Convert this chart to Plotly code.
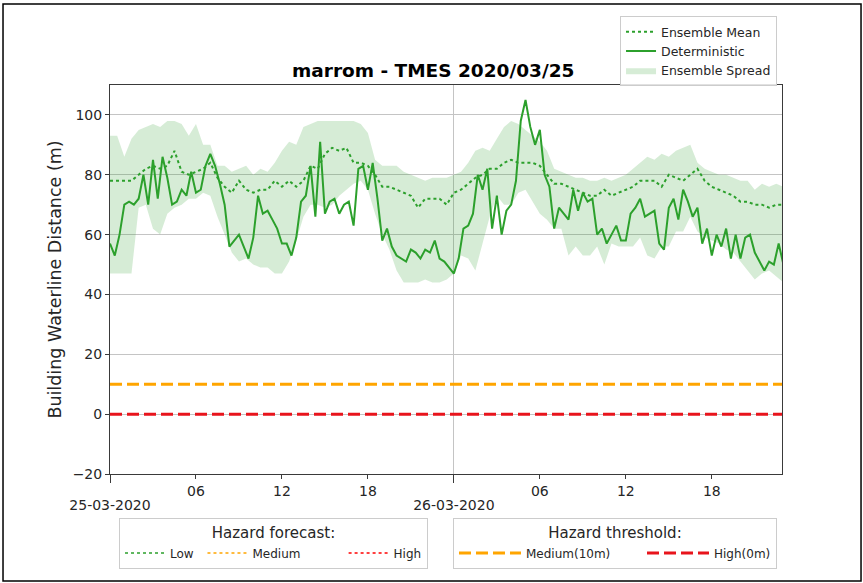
import pandas as pd
import plotly.graph_objects as go

# ---------------------------------------------------------------------------
# Building waterline distance forecast, station "marrom", run TMES 2020/03/25
# ---------------------------------------------------------------------------

# Deterministic run, 20-minute steps from 25-03-2020 00:00
deterministic = [
    57, 53, 60,   70, 71, 70,   72, 80, 70,   85, 72, 86,
    79, 70, 71,   75, 73, 81,   74, 75, 83,   87, 83, 77,
    70, 56, 58,   60, 56, 52,   59, 73, 67,   68, 65, 62,
    57, 57, 53,   59, 71, 73,   83, 66, 91,   67, 71, 72,
    67, 70, 71,   63, 82, 83,   75, 84, 72,   58, 62, 56,
    53, 52, 51,   55, 54, 52,   55, 54, 58,   52, 51, 49,
    47, 52, 62,   63, 67, 80,   75, 82, 62,   73, 60, 68,
    70, 78, 98,  105, 96, 90,   95, 80, 76,   62, 69, 67,
    65, 75, 68,   74, 71, 72,   60, 62, 57,   60, 63, 58,
    58, 67, 69,   72, 66, 67,   68, 57, 55,   69, 72, 65,
    75, 71, 66,   69, 57, 62,   53, 60, 56,   62, 52, 60,
    52, 59, 60,   54, 51, 48,   51, 50, 57,   50,
]

# Ensemble statistics, 30-minute steps from 25-03-2020 00:00
ensemble_mean = [
    78, 78,  78, 78,  80, 82,  83, 82,  83, 88,  81, 80,  81, 82,  84, 79,
    76, 74,  78, 75,  74, 75,  75, 78,  76, 78,  76, 78,  83, 82,  87, 89,
    88, 89,  84, 84,  83, 80,  76, 76,  75, 74,  73, 69,  72, 72,  72, 70,
    74, 75,  77, 79,  80, 82,  82, 84,  85, 84,  84, 84,  83, 80,  77, 77,
    76, 75,  74, 73,  73, 75,  73, 74,  75, 76,  78, 78,  78, 76,  80, 79,
    78, 80,  82, 78,  76, 75,  74, 73,  71, 71,  70, 70,  69, 70,  70,
]
spread_max = [
    93, 93,  86, 92,  95, 96,  97, 96,  98, 98,  97, 93,  97, 90,  90, 83,
    83, 81,  82, 83,  80, 82,  81, 84,  88, 91,  90, 96,  97, 98,  98, 98,
    98, 98,  98, 97,  94, 85,  83, 83,  83, 81,  80, 79,  78, 79,  79, 79,
    80, 81,  84, 88,  89, 88,  92, 96,  98, 97,  95, 93,  91, 88,  82, 81,
    80, 79,  79, 78,  78, 79,  78, 79,  80, 82,  84, 86,  85, 87,  86, 88,
    89, 90,  84, 82,  81, 80,  80, 79,  78, 78,  75, 77,  76, 77,  76,
]
spread_min = [
    47, 47,  47, 47,  69, 70,  62, 60,  67, 69,  70, 72,  72, 74,  73, 66,
    60, 54,  51, 52,  50, 49,  49, 47,  47, 51,  58, 66,  70, 70,  69, 70,
    73, 75,  77, 78,  75, 67,  60, 55,  48, 44,  44, 44,  45, 44,  44, 45,
    47, 53,  52, 48,  57, 66,  73, 70,  70, 74,  75, 71,  67, 65,  62, 62,
    53, 56,  53, 53,  56, 50,  57, 56,  56, 56,  59, 53,  52, 56,  56, 61,
    61, 66,  61, 59,  58, 57,  55, 54,  51, 48,  45, 47,  48, 46,  44,
]

# Hazard forecast classes (legend entries) and hazard thresholds
forecast_levels = ["Low", "Medium", "High"]
forecast_colors = ["#2ca02c", "#ffa500", "#ff0000"]
threshold_names = ["Medium(10m)", "High(0m)"]
threshold_values = [10, 0]
threshold_colors = ["#ffa500", "#e8141c"]

# Axis ticks
y_ticks = [-20, 0, 20, 40, 60, 80, 100]
y_tick_labels = ["\u221220", "0", "20", "40", "60", "80", "100"]
hour_ticks = ["2020-03-25 06:00", "2020-03-25 12:00", "2020-03-25 18:00",
              "2020-03-26 06:00", "2020-03-26 12:00", "2020-03-26 18:00"]
hour_labels = ["06", "12", "18", "06", "12", "18"]
day_ticks = ["2020-03-25 00:00", "2020-03-26 00:00"]
day_labels = ["25-03-2020", "26-03-2020"]

FONT = "DejaVu Sans"
GREEN = "#2ca02c"
TEXT = "#262626"
SPINE = "#3a3a3a"
GRID = "#c4c4c4"
NBSP = "\u00a0"

# trailing spacing of each key entry in the bottom legends (column spacing)
forecast_pad = [1, 10, 0]
threshold_pad = [7, 0]

det_time = pd.date_range("2020-03-25 00:00", periods=len(deterministic), freq="20min")
ens_time = pd.date_range("2020-03-25 00:00", periods=len(ensemble_mean), freq="30min")
x_range = ["2020-03-25 00:00", "2020-03-26 22:54"]

fig = go.Figure()

# ensemble spread band
fig.add_trace(go.Scatter(x=ens_time, y=spread_min, mode="lines",
                         line=dict(width=0, color=GREEN), showlegend=False,
                         hoverinfo="skip"))
fig.add_trace(go.Scatter(x=ens_time, y=spread_max, mode="lines",
                         line=dict(width=0, color=GREEN), fill="tonexty",
                         fillcolor="rgba(50,160,50,0.2)",
                         name="Ensemble Spread", legendrank=3))
fig.add_trace(go.Scatter(x=ens_time, y=ensemble_mean, mode="lines",
                         line=dict(color=GREEN, width=2, dash="dot"),
                         name="Ensemble Mean", legendrank=1))
fig.add_trace(go.Scatter(x=det_time, y=deterministic, mode="lines",
                         line=dict(color=GREEN, width=2),
                         name="Deterministic", legendrank=2))

# hazard forecast key
for name, color, pad in zip(forecast_levels, forecast_colors, forecast_pad):
    fig.add_trace(go.Scatter(x=[None], y=[None], mode="lines",
                             line=dict(color=color, width=1.5, dash="dot"),
                             name=name + NBSP * pad, legend="legend2"))

# hazard thresholds across the whole window
for name, value, color, pad in zip(threshold_names, threshold_values,
                                   threshold_colors, threshold_pad):
    fig.add_trace(go.Scatter(x=x_range, y=[value, value], mode="lines",
                             line=dict(color=color, width=3, dash="12px,5px"),
                             name=name + NBSP * pad, legend="legend3", xaxis="x2"))

fig.update_layout(
    width=863, height=583,
    margin=dict(l=110, r=81, t=85, b=109),
    paper_bgcolor="white", plot_bgcolor="white",
    font=dict(family=FONT, size=14, color=TEXT),
    xaxis=dict(type="date", range=x_range, tickvals=hour_ticks, ticktext=hour_labels,
               ticks="outside", ticklen=4, tickcolor=SPINE, showgrid=False,
               showline=True, mirror=True, linecolor=SPINE, linewidth=1,
               zeroline=False, tickfont=dict(size=14, color=TEXT)),
    xaxis2=dict(type="date", range=x_range, overlaying="x", anchor="y", side="bottom",
                tickvals=day_ticks, ticktext=day_labels, ticks="outside", ticklen=8,
                tickcolor=SPINE, showgrid=True, gridcolor=GRID, gridwidth=1,
                showline=False, zeroline=False, ticklabelstandoff=10,
                tickfont=dict(size=14, color=TEXT)),
    yaxis=dict(range=[-20, 110], tickvals=y_ticks, ticktext=y_tick_labels,
               ticks="outside", ticklen=4, tickcolor=SPINE, showgrid=True,
               gridcolor=GRID, gridwidth=1, zeroline=False, showline=True,
               mirror=True, linecolor=SPINE, linewidth=1,
               tickfont=dict(size=14, color=TEXT),
               title=dict(text="Building Waterline Distance (m)",
                          font=dict(size=17.5, color=TEXT), standoff=6)),
    legend=dict(x=0.9926, y=1.177, xanchor="right", yanchor="top",
                traceorder="normal",
                bordercolor="#cccccc", borderwidth=1, bgcolor="rgba(255,255,255,0.85)",
                font=dict(size=12.5, color=TEXT), tracegroupgap=0),
    legend2=dict(x=0.0134, y=-0.113, xanchor="left", yanchor="top", orientation="h",
                 bordercolor="#cccccc", borderwidth=1, bgcolor="white",
                 font=dict(size=12, color=TEXT), itemwidth=40,
                 title=dict(text="Hazard forecast:", side="top center",
                            font=dict(size=15, color=TEXT))),
    legend3=dict(x=0.5104, y=-0.113, xanchor="left", yanchor="top", orientation="h",
                 bordercolor="#cccccc", borderwidth=1, bgcolor="white",
                 font=dict(size=12, color=TEXT), itemwidth=62,
                 title=dict(text="Hazard threshold:", side="top center",
                            font=dict(size=15, color=TEXT))),
    showlegend=True,
)

fig.add_annotation(text="<b>marrom - TMES 2020/03/25</b>", xref="paper", yref="paper",
                   x=0.4807, y=1.036, xanchor="center", yanchor="middle", showarrow=False,
                   font=dict(family=FONT, size=18.5, color="black"))

# outer frame
fig.add_shape(type="rect", xref="paper", yref="paper",
              x0=-0.1592, x1=1.1176, y0=-0.2751, y1=1.2082,
              line=dict(color="black", width=1.5), layer="above")

fig.write_html("out.html")
